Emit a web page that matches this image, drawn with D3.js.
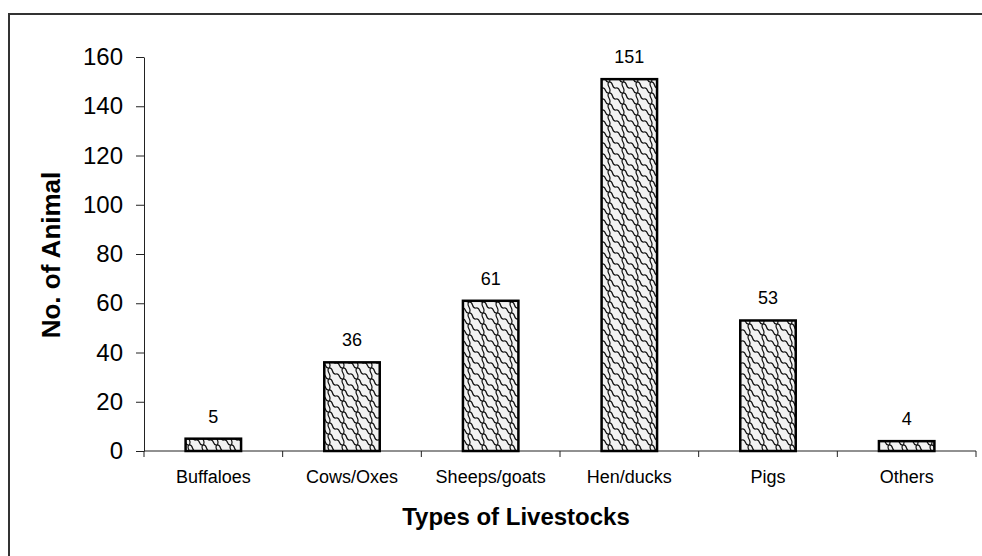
<!DOCTYPE html>
<html>
<head>
<meta charset="utf-8">
<script src="https://cdn.jsdelivr.net/npm/d3@7"></script>
<style>
  html, body { margin: 0; padding: 0; background: #fff; }
  svg { display: block; font-family: "Liberation Sans", Arial, sans-serif; }
</style>
</head>
<body>
<svg id="chart" width="982" height="556"></svg>
<script>
// Livestock counts per type
const categories = ["Buffaloes", "Cows/Oxes", "Sheeps/goats", "Hen/ducks", "Pigs", "Others"];
const animalCounts = [5, 36, 61, 151, 53, 4];
const yTicks = [0, 20, 40, 60, 80, 100, 120, 140, 160];

const svg = d3.select("#chart");

const plot = { left: 144, right: 976, top: 57, bottom: 451 };

// Outer frame (runs off the right and bottom edges)
svg.append("rect")
  .attr("x", 9).attr("y", 14)
  .attr("width", 1000).attr("height", 600)
  .attr("fill", "none")
  .attr("stroke", "#333").attr("stroke-width", 2);

// Wavy shingle fill for the bars: a falling wave plus a wiggly riser per tile,
// repeated on the neighbouring offsets so the tile joins seamlessly.
const TW = 14, TH = 11;
const defs = svg.append("defs");
const pat = defs.append("pattern")
  .attr("id", "shingle")
  .attr("patternUnits", "userSpaceOnUse")
  .attr("width", TW).attr("height", TH);
pat.append("rect").attr("width", TW).attr("height", TH).attr("fill", "#f2f2f2");
const motif = "M0,0 C5,-1 2,6 7,5 C12,4 9,12 14,11 M7,5 C3,8 11,12 7,16";
const offsets = [];
for (const dx of [-TW, 0, TW]) for (const dy of [-TH, 0, TH]) offsets.push([dx, dy]);
pat.selectAll("path")
  .data(offsets)
  .join("path")
  .attr("d", motif)
  .attr("transform", d => `translate(${d[0]},${d[1]})`)
  .attr("fill", "none")
  .attr("stroke", "#111")
  .attr("stroke-width", 1.2);

const x = d3.scaleBand()
  .domain(categories)
  .range([plot.left, plot.right])
  .paddingInner(0.6)
  .paddingOuter(0.3);

const xCat = d3.scaleBand()
  .domain(categories)
  .range([plot.left, plot.right])
  .padding(0);

const y = d3.scaleLinear()
  .domain([0, 160])
  .range([plot.bottom, plot.top]);

// Y axis
const yAxis = svg.append("g")
  .attr("transform", `translate(${plot.left},0)`)
  .call(d3.axisLeft(y).tickValues(yTicks).tickSize(8).tickPadding(13).tickSizeOuter(0));
yAxis.select(".domain").attr("stroke", "#222");
yAxis.selectAll(".tick line").attr("stroke", "#222");
yAxis.selectAll(".tick text")
  .attr("font-size", 24)
  .attr("fill", "#000")
  .attr("font-family", "Liberation Sans, Arial, sans-serif");

// X axis: line with ticks at category boundaries
const xAxisG = svg.append("g").attr("transform", `translate(0,${plot.bottom})`);
xAxisG.append("line")
  .attr("x1", plot.left).attr("x2", plot.right)
  .attr("y1", 0).attr("y2", 0)
  .attr("stroke", "#222");
const boundaries = categories.map(c => xCat(c)).concat([xCat(categories[categories.length - 1]) + xCat.bandwidth()]);
xAxisG.selectAll("line.bt")
  .data(boundaries)
  .join("line")
  .attr("class", "bt")
  .attr("x1", d => d).attr("x2", d => d)
  .attr("y1", 0).attr("y2", 6)
  .attr("stroke", "#222");
xAxisG.selectAll("text.cat")
  .data(categories)
  .join("text")
  .attr("class", "cat")
  .attr("x", d => xCat(d) + xCat.bandwidth() / 2)
  .attr("y", 32)
  .attr("text-anchor", "middle")
  .attr("font-size", 18)
  .attr("fill", "#000")
  .text(d => d);

// Bars
const data = categories.map((c, i) => ({ cat: c, value: animalCounts[i] }));
svg.append("g").selectAll("rect")
  .data(data)
  .join("rect")
  .attr("x", d => x(d.cat))
  .attr("y", d => y(d.value))
  .attr("width", x.bandwidth())
  .attr("height", d => y(0) - y(d.value))
  .attr("fill", "url(#shingle)")
  .attr("stroke", "#000")
  .attr("stroke-width", 2.5);

// Value labels
svg.append("g").selectAll("text")
  .data(data)
  .join("text")
  .attr("x", d => x(d.cat) + x.bandwidth() / 2)
  .attr("y", d => y(d.value) - 16)
  .attr("text-anchor", "middle")
  .attr("font-size", 18)
  .attr("fill", "#000")
  .text(d => d.value);

// Axis titles
svg.append("text")
  .attr("x", 516).attr("y", 525)
  .attr("text-anchor", "middle")
  .attr("font-size", 24)
  .attr("font-weight", "bold")
  .attr("fill", "#000")
  .text("Types of Livestocks");

svg.append("text")
  .attr("transform", "translate(60,255) rotate(-90)")
  .attr("text-anchor", "middle")
  .attr("font-size", 26)
  .attr("font-weight", "bold")
  .attr("fill", "#000")
  .text("No. of Animal");
</script>
</body>
</html>
